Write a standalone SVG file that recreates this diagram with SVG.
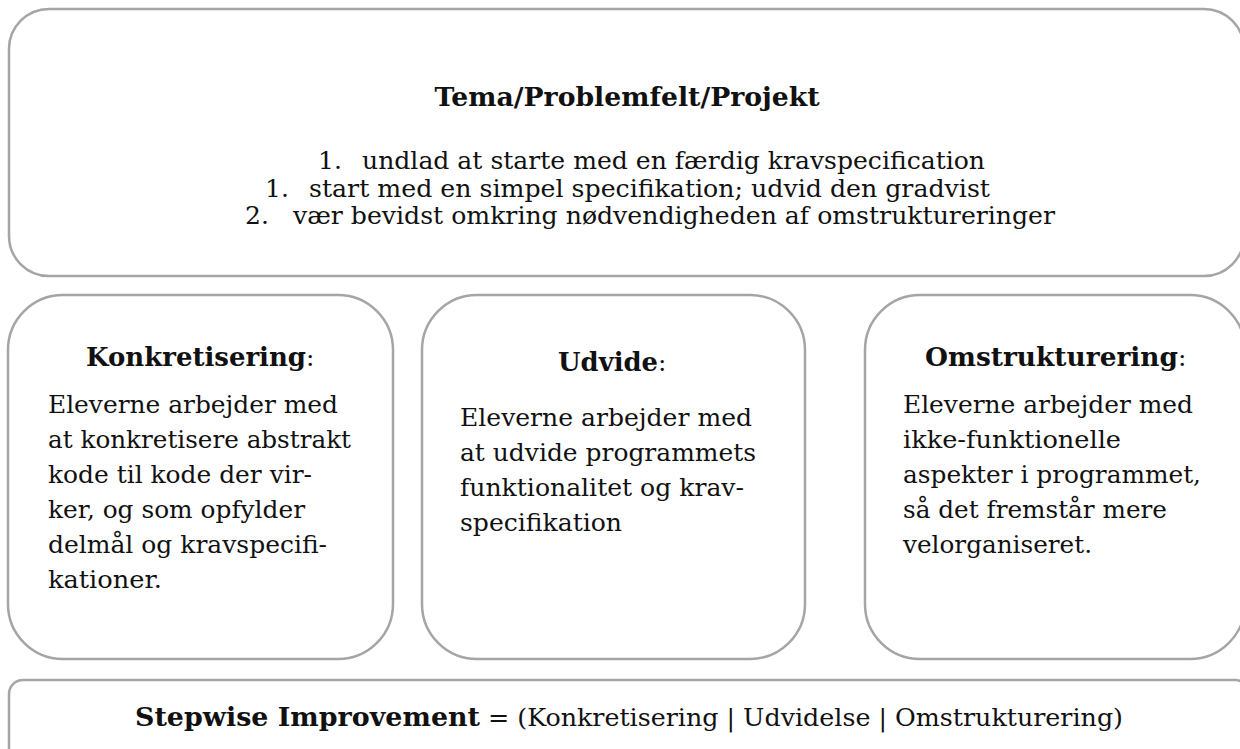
<svg xmlns="http://www.w3.org/2000/svg" width="1240" height="749" viewBox="0 0 1240 749">
<style>
.box{fill:#ffffff;stroke:#a5a5a5;stroke-width:2.5}
text{font-family:"DejaVu Serif","Liberation Serif",serif;fill:#111111}
.t{font-size:25px}
.h{font-size:26px;font-weight:bold}
.b{font-size:24px}
</style>
<rect width="1240" height="749" fill="#ffffff"/>
<g id="tema">
<rect class="box" x="9" y="9" width="1235" height="267" rx="40"/>
<text class="h" x="627" y="106" text-anchor="middle" textLength="385" lengthAdjust="spacingAndGlyphs">Tema/Problemfelt/Projekt</text>
<text class="t" x="318" y="169">1.<tspan x="362" textLength="623" lengthAdjust="spacingAndGlyphs">undlad at starte med en færdig kravspecification</tspan></text>
<text class="t" x="265" y="197">1.<tspan x="309" textLength="681" lengthAdjust="spacingAndGlyphs">start med en simpel specifikation; udvid den gradvist</tspan></text>
<text class="t" x="245" y="224">2.<tspan x="293" textLength="762" lengthAdjust="spacingAndGlyphs">vær bevidst omkring nødvendigheden af omstruktureringer</tspan></text>
</g>
<g id="konkretisering">
<rect class="box" x="8" y="295" width="385" height="364" rx="55"/>
<text x="86" y="366"><tspan class="h" textLength="220" lengthAdjust="spacingAndGlyphs">Konkretisering</tspan><tspan class="t">:</tspan></text>
<text class="b" x="48" y="413" textLength="290" lengthAdjust="spacingAndGlyphs">Eleverne arbejder med</text>
<text class="b" x="48" y="448" textLength="303" lengthAdjust="spacingAndGlyphs">at konkretisere abstrakt</text>
<text class="b" x="48" y="483" textLength="264" lengthAdjust="spacingAndGlyphs">kode til kode der vir-</text>
<text class="b" x="48" y="518" textLength="257" lengthAdjust="spacingAndGlyphs">ker, og som opfylder</text>
<text class="b" x="48" y="553" textLength="279" lengthAdjust="spacingAndGlyphs">delmål og kravspecifi-</text>
<text class="b" x="48" y="588" textLength="114" lengthAdjust="spacingAndGlyphs">kationer.</text>
</g>
<g id="udvide">
<rect class="box" x="422" y="295" width="383" height="364" rx="55"/>
<text x="558" y="371"><tspan class="h" textLength="100" lengthAdjust="spacingAndGlyphs">Udvide</tspan><tspan class="t">:</tspan></text>
<text class="b" x="460" y="426" textLength="292" lengthAdjust="spacingAndGlyphs">Eleverne arbejder med</text>
<text class="b" x="460" y="461" textLength="296" lengthAdjust="spacingAndGlyphs">at udvide programmets</text>
<text class="b" x="460" y="496" textLength="284" lengthAdjust="spacingAndGlyphs">funktionalitet og krav-</text>
<text class="b" x="460" y="531" textLength="162" lengthAdjust="spacingAndGlyphs">specifikation</text>
</g>
<g id="omstrukturering">
<rect class="box" x="865" y="295" width="380" height="364" rx="55"/>
<text x="925" y="366"><tspan class="h" textLength="253" lengthAdjust="spacingAndGlyphs">Omstrukturering</tspan><tspan class="t">:</tspan></text>
<text class="b" x="903" y="413" textLength="290" lengthAdjust="spacingAndGlyphs">Eleverne arbejder med</text>
<text class="b" x="903" y="448" textLength="218" lengthAdjust="spacingAndGlyphs">ikke-funktionelle</text>
<text class="b" x="903" y="483" textLength="298" lengthAdjust="spacingAndGlyphs">aspekter i programmet,</text>
<text class="b" x="903" y="518" textLength="264" lengthAdjust="spacingAndGlyphs">så det fremstår mere</text>
<text class="b" x="903" y="553" textLength="189" lengthAdjust="spacingAndGlyphs">velorganiseret.</text>
</g>
<g id="stepwise">
<rect class="box" x="9" y="680" width="1240" height="90" rx="14"/>
<text x="135" y="726"><tspan class="h" textLength="345" lengthAdjust="spacingAndGlyphs">Stepwise Improvement</tspan><tspan class="t" x="488" textLength="635" lengthAdjust="spacingAndGlyphs">= (Konkretisering | Udvidelse | Omstrukturering)</tspan></text>
</g>
<g id="connectors"></g>
</svg>
